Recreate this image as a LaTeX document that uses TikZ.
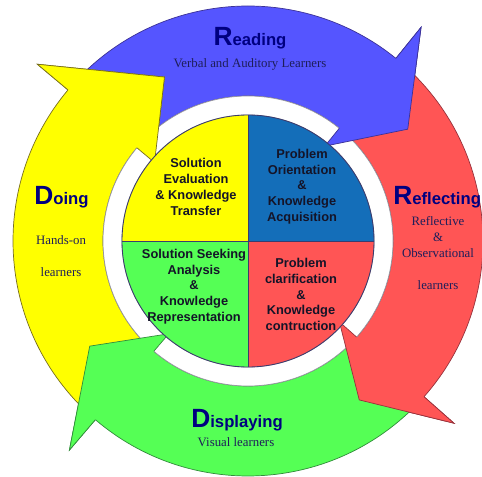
\documentclass[tikz,border=0pt]{standalone}
\usepackage{fontspec}
\setmainfont{Liberation Serif}
\setsansfont{Liberation Sans}

\definecolor{arrowblue}{RGB}{85,85,255}
\definecolor{arrowred}{RGB}{255,85,85}
\definecolor{arrowgreen}{RGB}{85,255,85}
\definecolor{arrowyellow}{RGB}{255,255,0}
\definecolor{blueline}{RGB}{60,50,150}
\definecolor{redline}{RGB}{150,50,60}
\definecolor{greenline}{RGB}{50,140,60}
\definecolor{yellowline}{RGB}{120,110,30}
\definecolor{pieblue}{RGB}{20,110,185}
\definecolor{pieline}{RGB}{60,60,110}
\definecolor{ringline}{RGB}{150,150,160}
\definecolor{titlenavy}{RGB}{0,0,128}
\definecolor{subnavy}{RGB}{30,30,90}
\definecolor{phasetext}{RGB}{20,20,40}

\tikzset{
  stagetitle/.style={font=\sffamily\bfseries\fontsize{9.5}{12}\selectfont, text=titlenavy, anchor=base, inner sep=0pt},
  learner/.style={font=\fontsize{7.3}{9}\selectfont, text=subnavy, anchor=base, inner sep=0pt},
  phase/.style={font=\sffamily\bfseries\fontsize{7.3}{9}\selectfont, text=phasetext, align=center, inner sep=0pt},
}
\newcommand{\capletter}[1]{{\fontsize{15}{15}\selectfont #1}}

\begin{document}
\begin{tikzpicture}[x=0.02cm,y=0.02cm]
        \pgfmathsetmacro{\rout}{235}
        \pgfmathsetmacro{\rin}{145}
        \pgfmathsetmacro{\rpie}{126}
        \pgfmathsetmacro{\rbarbout}{275}
        \pgfmathsetmacro{\rbarbin}{122}
        \useasboundingbox (-248,-235) rectangle (234,241);

        %draw the four arrows
        \foreach \col/\ln/\ts/\tb/\tt/\rt in {arrowblue/blueline/137/51/35/195, arrowred/redline/48/-41.5/-55/194, arrowgreen/greenline/-44.5/-130.5/-146.4/190, arrowyellow/yellowline/226.5/140/117/184}{
            \filldraw[fill=\col, draw=\ln, line width=0.4pt] (\ts:\rout) arc[start angle=\ts, end angle=\tb, radius=\rout]
                -- (\tb:\rbarbout) -- (\tt:\rt) -- (\tb:\rbarbin) -- (\tb:\rin)
                arc[start angle=\tb, end angle=\ts, radius=\rin] -- cycle;
        }
        %white ring
        \filldraw[fill=white, draw=ringline, line width=0.4pt, even odd rule] (0,0) circle (\rin) (0,0) circle (\rpie);
        %arrow heads on top of ring and next tail
        \foreach \col/\ln/\tb/\tt/\rt in {arrowblue/blueline/51/35/195, arrowred/redline/-41.5/-55/194, arrowgreen/greenline/-130.5/-146.4/190, arrowyellow/yellowline/140/117/184}{
            \fill[\col] (\tb:\rbarbout) -- (\tt:\rt) -- (\tb:\rbarbin) -- cycle;
            \draw[\ln, line width=0.4pt] (\tb:\rin) -- (\tb:\rbarbin) -- (\tt:\rt) -- (\tb:\rbarbout) -- (\tb:\rout);
        }

        %inner circle
        \foreach \a/\col in {0/pieblue, 90/arrowyellow, 180/arrowgreen, 270/arrowred}{
            \fill[\col] (0,0) -- (\a:\rpie) arc[start angle=\a, end angle=\a+90, radius=\rpie] -- cycle;
        }
        \draw[pieline, line width=0.5pt] (0,0) circle (\rpie);
        \draw[pieline, line width=0.5pt] (-\rpie,0) -- (\rpie,0);
        \draw[pieline, line width=0.5pt] (0,-\rpie) -- (0,\rpie);

        \node[phase] (evaluation) at (-52,54) {Solution\\Evaluation\\\& Knowledge\\Transfer};
        \node[phase] (orientation) at (54,54.5) {Problem\\Orientation\\\&\\Knowledge\\Acquisition};
        \node[phase] (seeking) at (-54,-45.5) {Solution Seeking\\Analysis\\\&\\Knowledge\\Representation};
        \node[phase] (clarification) at (53,-53.5) {Problem\\clarification\\\&\\Knowledge\\contruction};

        %stage names
        \node[stagetitle] (reading) at (2,195) {\capletter{R}eading};
        \node[learner] (readinglearners) at (2,173) {Verbal and Auditory Learners};
        \node[stagetitle, anchor=base west] (reflecting) at (145,36) {\capletter{R}eflecting};
        \node[learner] (reflective) at (190,15) {Reflective};
        \node[learner] (reflectiveand) at (190,0) {\&};
        \node[learner] (observational) at (190,-16) {Observational};
        \node[learner] (reflectinglearners) at (190,-48) {learners};
        \node[stagetitle] (displaying) at (-11,-186) {\capletter{D}isplaying};
        \node[learner] (visual) at (-12,-205) {Visual learners};
        \node[stagetitle] (doing) at (-186.5,36) {\capletter{D}oing};
        \node[learner] (handson) at (-187,-4) {Hands-on};
        \node[learner] (doinglearners) at (-187,-35) {learners};
\end{tikzpicture}
\end{document}
